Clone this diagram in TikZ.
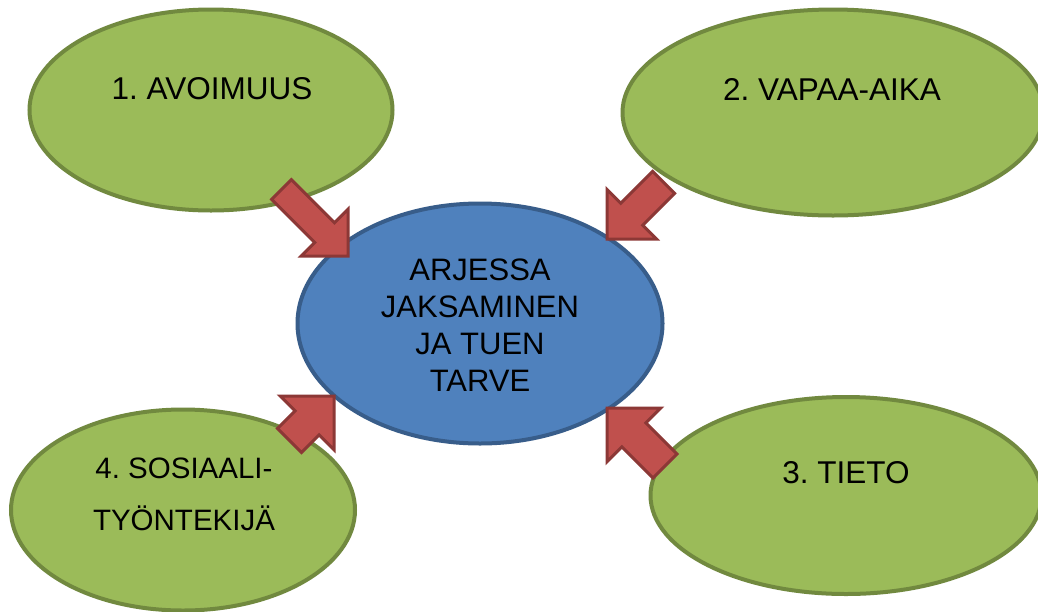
\documentclass[tikz,border=0pt]{standalone}
\usepackage{fontspec}
\setmainfont{Liberation Sans}
\usetikzlibrary{shapes.geometric}
\definecolor{gfill}{HTML}{9BBB59}
\definecolor{gline}{HTML}{71893F}
\definecolor{bfill}{HTML}{4F81BD}
\definecolor{bline}{HTML}{385D8A}
\definecolor{rfill}{HTML}{C0504D}
\definecolor{rline}{HTML}{8C3836}
\frenchspacing
\newcommand\blockarr[5]{% tip coordinate, angle, length, head half width, shaft half width
  \draw[barrow, shift={(#1)}, rotate=#2] (0,0) -- (-#4,#4) -- (-#4,#5) -- (-#3,#5) -- (-#3,-#5) -- (-#4,-#5) -- (-#4,-#4) -- cycle;}
\begin{document}
\begin{tikzpicture}[x=1pt,y=-1pt,
  greenell/.style={ellipse, draw=gline, fill=gfill, line width=4pt, inner sep=0pt},
  blueell/.style={ellipse, draw=bline, fill=bfill, line width=4pt, inner sep=0pt},
  barrow/.style={draw=rline, fill=rfill, line width=3pt, line join=miter},
  lbl/.style={anchor=base, align=center, inner sep=0pt, text=black},
  big/.style={font=\fontsize{31.5}{36}\selectfont},
  mid/.style={font=\fontsize{31}{36.7}\selectfont},
  small/.style={font=\fontsize{29.5}{52}\selectfont}]
\useasboundingbox (0,0) rectangle (1038,611);
\fill[white] (0,0) rectangle (1038,611);
\clip (0,0) rectangle (1038,611);
% ellipses
\node[greenell, minimum width=363pt, minimum height=201pt] (avo) at (211,110) {};
\node[greenell, minimum width=421pt, minimum height=206pt] (vap) at (833,112.5) {};
\node[greenell, minimum width=344pt, minimum height=201pt] (sos) at (183,510) {};
\node[greenell, minimum width=391pt, minimum height=197pt] (tie) at (846,495.5) {};
\node[blueell, minimum width=365pt, minimum height=240pt] (arj) at (480,323.5) {};
% labels (base anchor = baseline of the last line)
\node[lbl, big] (tavo) at (212,99) {1. AVOIMUUS};
\node[lbl, big] (tvap) at (832,100) {2. VAPAA-AIKA};
\node[lbl, big] (ttie) at (846,483) {3. TIETO};
\node[lbl, small] (tsos) at (184,530) {4. SOSIAALI-\\TYÖNTEKIJÄ};
\node[lbl, mid] (tarj) at (480,391) {ARJESSA\\JAKSAMINEN\\JA TUEN\\TARVE};
% arrow tips
\coordinate (p1) at (348,256);
\coordinate (p2) at (607,239);
\coordinate (p3) at (607,408);
\coordinate (p4) at (334,396);
\blockarr{p1}{-45}{94}{33}{14}
\blockarr{p2}{-135}{80}{35}{15.5}
\blockarr{p3}{135}{82}{38}{17}
\blockarr{p4}{45}{63}{38}{17}
\end{tikzpicture}
\end{document}
